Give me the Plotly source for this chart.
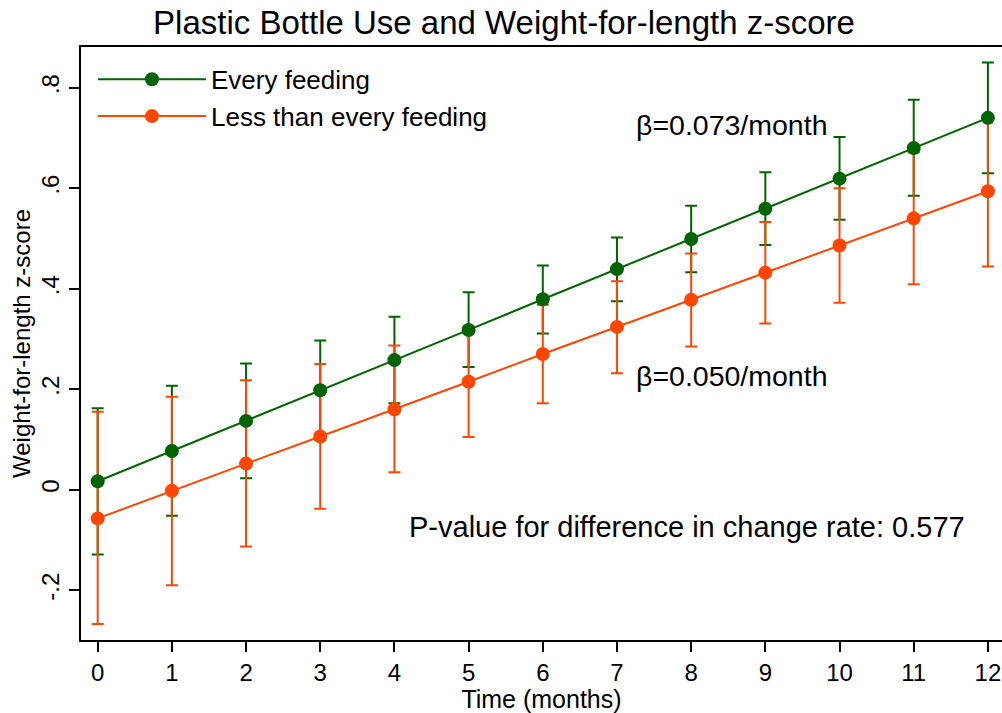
import plotly.graph_objects as go

months = list(range(13))
every_mean = [0.017, 0.077, 0.137, 0.198, 0.258, 0.318, 0.379, 0.439, 0.499, 0.559, 0.619, 0.680, 0.740]
every_upper = [0.162, 0.207, 0.251, 0.297, 0.344, 0.393, 0.446, 0.502, 0.565, 0.632, 0.702, 0.776, 0.850]
every_lower = [-0.129, -0.052, 0.023, 0.099, 0.172, 0.244, 0.311, 0.375, 0.433, 0.487, 0.537, 0.585, 0.630]
less_mean = [-0.057, -0.002, 0.052, 0.106, 0.160, 0.215, 0.270, 0.324, 0.378, 0.432, 0.486, 0.540, 0.594]
less_upper = [0.155, 0.185, 0.218, 0.250, 0.287, 0.325, 0.368, 0.415, 0.470, 0.533, 0.600, 0.671, 0.745]
less_lower = [-0.267, -0.190, -0.113, -0.038, 0.035, 0.105, 0.172, 0.232, 0.285, 0.331, 0.372, 0.409, 0.444]

y_tickvals = [-0.2, 0, 0.2, 0.4, 0.6, 0.8]
y_ticktext = ["-.2", "0", ".2", ".4", ".6", ".8"]

GREEN = "#006400"
ORANGE = "#FF4500"
FONT = "Liberation Sans, Arial, sans-serif"

fig = go.Figure()

def err_trace(mean, upper, lower, color):
    return go.Scatter(
        x=months, y=mean, mode="markers",
        marker=dict(size=1, color="rgba(0,0,0,0)"),
        error_y=dict(type="data", symmetric=False,
                     array=[u - m for u, m in zip(upper, mean)],
                     arrayminus=[m - l for m, l in zip(mean, lower)],
                     color=color, thickness=2, width=6),
        showlegend=False, hoverinfo="skip")

fig.add_trace(err_trace(every_mean, every_upper, every_lower, GREEN))
fig.add_trace(err_trace(less_mean, less_upper, less_lower, ORANGE))

fig.add_trace(go.Scatter(x=months, y=every_mean, mode="lines+markers", name="Every feeding",
                         line=dict(color=GREEN, width=2), marker=dict(color=GREEN, size=14)))
fig.add_trace(go.Scatter(x=months, y=less_mean, mode="lines+markers", name="Less than every feeding",
                         line=dict(color=ORANGE, width=2), marker=dict(color=ORANGE, size=14)))

fig.add_annotation(x=8.55, y=0.726, text="β=0.073/month", showarrow=False,
                   xanchor="center", yanchor="middle", font=dict(size=28.5, color="black", family=FONT))
fig.add_annotation(x=8.55, y=0.226, text="β=0.050/month", showarrow=False,
                   xanchor="center", yanchor="middle", font=dict(size=28.5, color="black", family=FONT))
fig.add_annotation(x=7.95, y=-0.074, text="P-value for difference in change rate: 0.577", showarrow=False,
                   xanchor="center", yanchor="middle", font=dict(size=29, color="black", family=FONT))

fig.update_layout(
    width=1002, height=713,
    margin=dict(l=81, r=0, t=47, b=73),
    paper_bgcolor="white", plot_bgcolor="white",
    font=dict(family=FONT, color="black"),
    title=dict(text="Plastic Bottle Use and Weight-for-length z-score",
               x=0.503, xref="container", xanchor="center",
               y=1 - 22 / 713, yref="container", yanchor="middle",
               font=dict(size=33, color="black", family=FONT)),
    legend=dict(x=0.013, y=0.985, xanchor="left", yanchor="top",
                bgcolor="rgba(0,0,0,0)", borderwidth=0, itemwidth=108,
                font=dict(size=26, color="black", family=FONT)),
    xaxis=dict(range=[-0.225, 12.19], tickvals=months, showgrid=False, zeroline=False,
               showline=True, linecolor="black", linewidth=2, mirror=True,
               ticks="outside", ticklen=10, tickwidth=1.5, tickcolor="black",
               tickfont=dict(size=24, color="black"),
               title=dict(text="Time (months)", font=dict(size=25, color="black"), standoff=2)),
    yaxis=dict(range=[-0.299, 0.881], tickvals=y_tickvals, ticktext=y_ticktext,
               showgrid=False, zeroline=False,
               showline=True, linecolor="black", linewidth=2,
               ticks="outside", ticklen=10, tickwidth=1.5, tickcolor="black",
               tickangle=-90, tickfont=dict(size=24, color="black"),
               title=dict(text="Weight-for-length z-score", font=dict(size=24, color="black"), standoff=0)),
)

fig.write_html("out.html", config={"displayModeBar": False},
               post_script="document.body.style.margin='0';document.body.style.overflow='hidden';")
